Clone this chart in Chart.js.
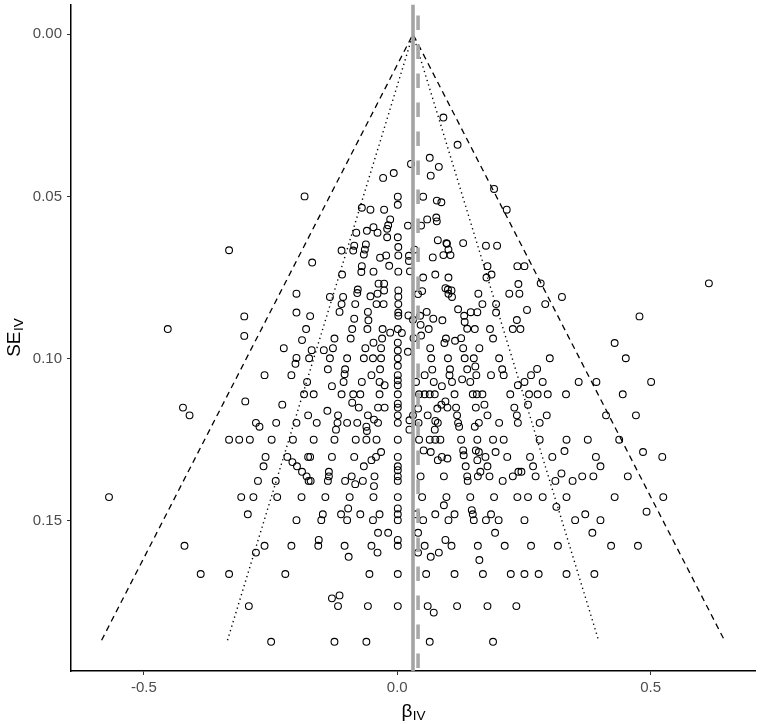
<!DOCTYPE html>
<html>
<head>
<meta charset="utf-8">
<script src="https://cdn.jsdelivr.net/npm/chart.js@4.4.1/dist/chart.umd.min.js"></script>
<style>
  html, body { margin: 0; padding: 0; background: #ffffff; }
  #wrap { width: 760px; height: 724px; }
</style>
</head>
<body>
<div id="wrap"><canvas id="c" width="760" height="724"></canvas></div>
<script>
// ---------------- data ----------------
const beta = [
  0.091,0.119,0.064,0.082,0.066,0.027,-0.007,-0.028,0.191,0.216,
  0.001,0.001,0.051,0.078,0.087,-0.070,-0.053,-0.026,-0.014,-0.018,
  -0.020,-0.047,-0.060,-0.081,-0.039,0.021,0.059,0.047,0.077,0.078,
  0.001,-0.020,0.080,0.097,0.130,0.175,0.197,-0.110,-0.085,-0.062,
  -0.087,-0.064,-0.066,-0.022,-0.034,0.002,0.002,0.023,0.023,0.034,
  0.070,0.091,0.105,0.101,0.098,-0.168,
  -0.109,-0.071,-0.070,-0.047,-0.016,0.002,0.025,0.051,0.075,0.101,
  0.178,0.186,0.176,0.237,-0.037,-0.026,-0.078,-0.079,-0.039,-0.026,
  0.002,0.002,-0.133,-0.107,-0.110,-0.083,-0.053,-0.041,-0.027,0.002,
  0.041,0.049,0.095,0.100,0.107,0.101,0.108,0.160,0.168,0.195,
  0.221,0.239,
  -0.172,-0.114,-0.085,-0.058,-0.057,0.002,0.002,0.022,0.031,0.045,
  0.058,0.071,0.089,0.120,0.132,0.145,0.158,0.133,0.138,0.153,
  0.195,0.183,0.189,0.228,0.236,-0.180,-0.089,-0.059,-0.029,-0.014,
  0.001,0.009,0.046,0.062,0.047,0.032,-0.124,-0.092,-0.030,-0.047,
  0.096,0.093,0.114,0.126,
  -0.169,-0.145,-0.127,-0.063,-0.032,0.001,0.001,0.021,0.065,0.130,
  0.162,-0.174,-0.133,-0.099,-0.066,-0.048,-0.032,0.001,0.067,0.100,
  0.133,0.151,0.201,-0.137,-0.103,-0.034,0.001,0.069,0.104,0.138,
  0.154,0.207,
  -0.183,-0.332,-0.199,-0.199,-0.302,-0.453,-0.302,-0.188,-0.224,-0.199,-0.201,
  0.251,0.283,0.241,0.325,0.292,0.256,0.243,0.615,0.478,0.429,0.451,0.301,0.276,
  -0.262,-0.209,-0.178,-0.184,-0.176,-0.300,-0.227,-0.423,-0.410,-0.279,
  -0.272,-0.239,-0.199,-0.332,-0.312,-0.291,-0.248,-0.206,-0.176,-0.260,
  -0.264,-0.217,-0.207,-0.198,-0.188,-0.179,-0.175,-0.275,-0.240,-0.569,
  -0.308,-0.284,-0.237,-0.189,-0.295,-0.199,-0.420,-0.262,-0.209,-0.279,
  -0.388,-0.332,-0.221,-0.293,-0.249,
  -0.104,-0.051,-0.106,-0.070,-0.035,-0.025,0.001,0.001,0.001,-0.129,
  0.054,0.072,0.088,0.103,0.108,0.128,0.144,0.156,0.185,0.210,
  0.238,0.037,-0.165,-0.110,-0.087,-0.073,-0.035,0.001,0.043,0.054,
  0.064,0.074,0.113,0.149,0.157,0.168,0.223,-0.089,-0.076,-0.038,
  -0.025,0.001,0.001,-0.138,-0.117,-0.058,0.001,0.031,0.041,0.060,
  0.079,0.087,0.095,0.099,0.116,0.118,0.155,0.172,0.178,0.231,
  0.236,-0.159,-0.118,-0.099,-0.079,-0.046,-0.038,-0.061,-0.121,-0.060,
  0.001,0.024,0.024,0.042,0.075,0.080,0.074,0.120,0.122,0.153,
  0.161,0.201,0.238,
  -0.165,-0.124,-0.082,-0.061,-0.041,0.001,0.043,0.064,0.075,0.085,0.126,0.158,0.189,0.210,
  -0.032,-0.042,-0.051,-0.066,-0.172,-0.129,-0.085,0.001,0.001,0.052,
  0.066,0.080,0.088,0.099,0.130,0.131,0.135,0.155,0.161,0.158,
  0.174,0.178,0.194,0.217,0.239,
  0.001,0.001,0.001,-0.171,-0.135,-0.135,-0.137,-0.103,-0.090,-0.083,
  -0.068,-0.045,-0.046,0.046,0.092,0.138,0.139,0.159,0.164,0.182,
  0.208,0.228,
  -0.142,-0.094,-0.047,0.001,0.049,0.097,0.144,0.191,0.237,
  -0.097,-0.111,-0.147,-0.150,-0.099,-0.073,-0.048,-0.035,0.001,0.001,
  0.001,0.037,0.051,0.075,0.092,0.101,0.113,0.147,0.149,0.151,
  0.175,0.185,0.200,
  -0.038,-0.018,0.041,0.193,-0.155,-0.156,-0.104,-0.051,-0.039,-0.096,
  0.001,0.001,0.041,0.054,0.066,0.082,0.095,0.107,0.159,0.162,
  0.212,
  -0.055,0.001,0.057,0.113,0.169,0.224,
  -0.114,-0.129,-0.117,-0.058,0.001,0.060,0.072,0.118,0.178,0.235,
  -0.124,-0.061,0.064,0.189,
  0.251,0.264,0.287,0.358,0.393,0.501,0.260,0.277,0.297,0.333,
  0.445,0.258,0.295,0.281,0.412,0.471,0.281,0.334,0.376,0.438,
  0.262,0.306,0.330,0.392,0.401,0.485,0.523,0.268,0.245,0.273,
  0.312,0.324,0.346,0.365,0.387,0.455,0.258,0.287,0.334,0.429,
  0.525,0.314,0.251,0.351,0.371,0.401,0.385,0.492,0.264,0.317,
  0.422,0.475,0.251,0.279,0.334,0.389
];
const se = [
  0.0257,0.0341,0.0381,0.0409,0.0436,0.0400,0.0428,0.0443,0.0477,0.0541,
  0.0501,0.0526,0.0501,0.0513,0.0518,0.0535,0.0541,0.0541,0.0571,0.0589,
  0.0600,0.0595,0.0606,0.0612,0.0612,0.0590,0.0571,0.0590,0.0565,0.0577,
  0.0626,0.0626,0.0635,0.0644,0.0644,0.0652,0.0652,0.0667,0.0652,0.0648,
  0.0667,0.0664,0.0679,0.0682,0.0689,0.0656,0.0682,0.0683,0.0699,0.0664,
  0.0688,0.0681,0.0681,0.0664,0.0646,0.0704,
  0.0741,0.0733,0.0715,0.0732,0.0714,0.0732,0.0731,0.0750,0.0741,0.0750,
  0.0715,0.0741,0.0750,0.0715,0.0769,0.0769,0.0787,0.0798,0.0800,0.0790,
  0.0790,0.0809,0.0810,0.0810,0.0832,0.0832,0.0808,0.0832,0.0832,0.0832,
  0.0801,0.0792,0.0783,0.0787,0.0790,0.0800,0.0810,0.0800,0.0832,0.0832,
  0.0800,0.0770,
  0.0869,0.0856,0.0877,0.0856,0.0882,0.0858,0.0868,0.0867,0.0880,0.0868,
  0.0856,0.0877,0.0882,0.0848,0.0868,0.0857,0.0857,0.0887,0.0908,0.0909,
  0.0858,0.0909,0.0938,0.0909,0.0881,0.0909,0.0909,0.0909,0.0909,0.0920,
  0.0909,0.0921,0.0896,0.0909,0.0929,0.0937,0.0938,0.0938,0.0938,0.0951,
  0.0938,0.0952,0.0945,0.0937,
  0.0974,0.0974,0.0968,0.0968,0.0968,0.0951,0.0975,0.0979,0.0968,0.0968,
  0.0968,0.0999,0.0999,0.0999,0.0999,0.0999,0.0999,0.0999,0.0999,0.0999,
  0.0999,0.0999,0.0999,0.1033,0.1033,0.1033,0.1022,0.1034,0.1033,0.1033,
  0.1024,0.1033,
  0.0500,0.0666,0.0800,0.0858,0.0870,0.0909,0.0930,0.0943,0.0968,0.0998,0.1016,
  0.0715,0.0768,0.0800,0.0810,0.0832,0.0850,0.0909,0.0768,0.0870,0.0952,0.0999,0.0999,0.1032,
  0.1051,0.1051,0.1072,0.1110,0.1175,0.1132,0.1142,0.1151,0.1175,0.1198,
  0.1210,0.1198,0.1198,0.1250,0.1250,0.1250,0.1250,0.1250,0.1303,0.1303,
  0.1332,0.1303,0.1319,0.1332,0.1349,0.1363,0.1377,0.1377,0.1377,0.1427,
  0.1427,0.1427,0.1427,0.1427,0.1480,0.1498,0.1577,0.1577,0.1577,0.1598,
  0.1664,0.1664,0.1664,0.1763,0.1873,
  0.1048,0.1051,0.1072,0.1072,0.1072,0.1082,0.1051,0.1067,0.1082,0.1085,
  0.1051,0.1072,0.1085,0.1051,0.1072,0.1064,0.1072,0.1051,0.1051,0.1051,
  0.1082,0.1072,0.1110,0.1110,0.1110,0.1110,0.1110,0.1110,0.1110,0.1110,
  0.1110,0.1110,0.1110,0.1110,0.1110,0.1110,0.1110,0.1136,0.1151,0.1151,
  0.1151,0.1139,0.1151,0.1161,0.1175,0.1175,0.1175,0.1175,0.1154,0.1175,
  0.1154,0.1142,0.1132,0.1151,0.1151,0.1175,0.1151,0.1142,0.1175,0.1151,
  0.1175,0.1198,0.1198,0.1198,0.1198,0.1188,0.1198,0.1210,0.1219,0.1223,
  0.1198,0.1190,0.1219,0.1198,0.1192,0.1198,0.1219,0.1198,0.1210,0.1210,
  0.1198,0.1198,0.1198,
  0.1250,0.1250,0.1250,0.1250,0.1250,0.1250,0.1250,0.1250,0.1250,0.1250,0.1250,0.1250,0.1250,0.1250,
  0.1288,0.1303,0.1313,0.1332,0.1303,0.1303,0.1303,0.1303,0.1332,0.1283,
  0.1288,0.1313,0.1303,0.1308,0.1283,0.1298,0.1332,0.1283,0.1288,0.1313,
  0.1303,0.1332,0.1288,0.1303,0.1349,
  0.1344,0.1363,0.1377,0.1377,0.1349,0.1363,0.1377,0.1377,0.1363,0.1387,
  0.1377,0.1363,0.1393,0.1363,0.1363,0.1363,0.1377,0.1363,0.1349,0.1363,
  0.1377,0.1363,
  0.1427,0.1427,0.1427,0.1427,0.1427,0.1427,0.1427,0.1427,0.1427,
  0.1462,0.1480,0.1480,0.1498,0.1498,0.1480,0.1498,0.1480,0.1462,0.1480,
  0.1498,0.1480,0.1498,0.1480,0.1452,0.1498,0.1480,0.1467,0.1480,0.1498,
  0.1498,0.1480,0.1498,
  0.1537,0.1537,0.1537,0.1537,0.1559,0.1577,0.1577,0.1577,0.1598,0.1611,
  0.1559,0.1577,0.1598,0.1577,0.1611,0.1598,0.1559,0.1577,0.1577,0.1621,
  0.1577,
  0.1664,0.1664,0.1664,0.1664,0.1664,0.1664,
  0.1730,0.1739,0.1763,0.1763,0.1763,0.1763,0.1783,0.1763,0.1763,0.1763,
  0.1873,0.1873,0.1873,0.1873,
  0.1072,0.1051,0.1072,0.1072,0.1072,0.1072,0.1110,0.1110,0.1110,0.1110,
  0.1110,0.1142,0.1175,0.1198,0.1175,0.1175,0.1250,0.1250,0.1250,0.1250,
  0.1303,0.1303,0.1285,0.1303,0.1332,0.1288,0.1303,0.1332,0.1349,0.1363,
  0.1377,0.1354,0.1377,0.1363,0.1363,0.1363,0.1427,0.1427,0.1427,0.1427,
  0.1427,0.1457,0.1498,0.1498,0.1480,0.1498,0.1537,0.1472,0.1577,0.1577,
  0.1577,0.1577,0.1664,0.1664,0.1664,0.1664
];
if (beta.length !== se.length) { throw new Error('length mismatch ' + beta.length + ' vs ' + se.length); }

// summary estimates (vertical lines) and funnel parameters
const pooledFixed = 0.031;     // solid grey line
const pooledRandom = 0.041;    // dashed grey line
const seMax = 0.1868;          // bottom of funnel
const zInner = 1.96;           // dotted funnel
const zOuter = 3.29;           // dashed funnel

// axes
const xRange = [-0.644, 0.707];
const yRange = [-0.00915, 0.1963];
const xTicks = [-0.5, 0.0, 0.5];
const xTickLabels = ['-0.5', '0.0', '0.5'];
const yTicks = [0.00, 0.05, 0.10, 0.15];
const yTickLabels = ['0.00', '0.05', '0.10', '0.15'];
const xTitle = ['\u03B2', 'IV'];
const yTitle = ['SE', 'IV'];

// ---------------- build chart ----------------
const points = beta.map((b, i) => ({ x: b, y: se[i] }));
const funnel = (z) => [
  { x: pooledFixed - z * seMax, y: seMax },
  { x: pooledFixed, y: 0 },
  { x: pooledFixed + z * seMax, y: seMax }
];
const FONT = '"Liberation Sans", Arial, Helvetica, sans-serif';

const titlePlugin = {
  id: 'axisTitles',
  afterDraw(chart) {
    const ctx = chart.ctx, a = chart.chartArea;
    const mainF = '19px ' + FONT, subF = '13.5px ' + FONT;
    ctx.save();
    ctx.fillStyle = '#000000';
    ctx.textBaseline = 'alphabetic';
    ctx.textAlign = 'left';
    // x title
    ctx.font = mainF; const wm = ctx.measureText(xTitle[0]).width;
    ctx.font = subF; const ws = ctx.measureText(xTitle[1]).width;
    const x0 = (a.left + a.right) / 2 - (wm + ws) / 2;
    ctx.font = mainF; ctx.fillText(xTitle[0], x0, 717);
    ctx.font = subF; ctx.fillText(xTitle[1], x0 + wm + 0.5, 720);
    // y title (rotated)
    ctx.font = mainF; const wm2 = ctx.measureText(yTitle[0]).width;
    ctx.font = subF; const ws2 = ctx.measureText(yTitle[1]).width;
    ctx.translate(20, (a.top + a.bottom) / 2);
    ctx.rotate(-Math.PI / 2);
    const y0 = -(wm2 + ws2) / 2;
    ctx.font = mainF; ctx.fillText(yTitle[0], y0, 0);
    ctx.font = subF; ctx.fillText(yTitle[1], y0 + wm2 + 0.5, 3);
    ctx.restore();
  }
};

function noPad(s) {
  s.paddingTop = 0; s.paddingBottom = 0; s.paddingLeft = 0; s.paddingRight = 0;
}

new Chart(document.getElementById('c'), {
  type: 'scatter',
  data: {
    datasets: [
      {
        label: 'fixed', type: 'line',
        data: [{ x: pooledFixed, y: yRange[0] }, { x: pooledFixed, y: yRange[1] }],
        borderColor: '#a3a3a3', borderWidth: 3.6, pointRadius: 0, fill: false, order: 1
      },
      {
        label: 'random', type: 'line',
        data: [{ x: pooledRandom, y: yRange[0] }, { x: pooledRandom, y: yRange[1] }],
        borderColor: '#a8a8a8', borderWidth: 3.6, borderDash: [14.5, 14.5], borderDashOffset: 18,
        pointRadius: 0, fill: false, order: 2
      },
      {
        label: 'outer', type: 'line', data: funnel(zOuter),
        borderColor: '#000000', borderWidth: 1.3, borderDash: [6, 4.5], pointRadius: 0, fill: false, tension: 0, order: 3
      },
      {
        label: 'inner', type: 'line', data: funnel(zInner),
        borderColor: '#000000', borderWidth: 1.4, borderDash: [1.3, 3.4], pointRadius: 0, fill: false, tension: 0, order: 4
      },
      {
        label: 'studies', data: points,
        pointRadius: 3.4, pointHoverRadius: 3.4, pointBorderWidth: 1.1,
        borderColor: '#000000', backgroundColor: 'rgba(0,0,0,0)', showLine: false, order: 5
      }
    ]
  },
  options: {
    responsive: false, animation: false,
    layout: { padding: { left: 0, right: 4, top: 4, bottom: 0 } },
    plugins: { legend: { display: false }, tooltip: { enabled: false } },
    scales: {
      x: {
        type: 'linear', position: 'bottom', min: xRange[0], max: xRange[1],
        afterFit(s) { s.height = 53; noPad(s); },
        afterBuildTicks(s) { s.ticks = xTicks.map(v => ({ value: v })); },
        ticks: {
          callback: (v, i) => xTickLabels[i],
          font: { family: FONT, size: 15 }, color: '#4d4d4d', padding: 4, maxRotation: 0, autoSkip: false
        },
        grid: { display: true, drawOnChartArea: false, drawTicks: true, tickLength: 4, color: '#333333', lineWidth: 1 },
        border: { display: true, color: '#000000', width: 1.5 }
      },
      y: {
        type: 'linear', position: 'left', reverse: true, min: yRange[0], max: yRange[1],
        afterFit(s) { s.width = 71; noPad(s); },
        afterBuildTicks(s) { s.ticks = yTicks.map(v => ({ value: v })); },
        ticks: {
          callback: (v, i) => yTickLabels[i],
          font: { family: FONT, size: 15 }, color: '#4d4d4d', padding: 5, autoSkip: false
        },
        grid: { display: true, drawOnChartArea: false, drawTicks: true, tickLength: 4, color: '#333333', lineWidth: 1 },
        border: { display: true, color: '#000000', width: 1.5 }
      }
    }
  },
  plugins: [titlePlugin]
});
</script>
</body>
</html>
